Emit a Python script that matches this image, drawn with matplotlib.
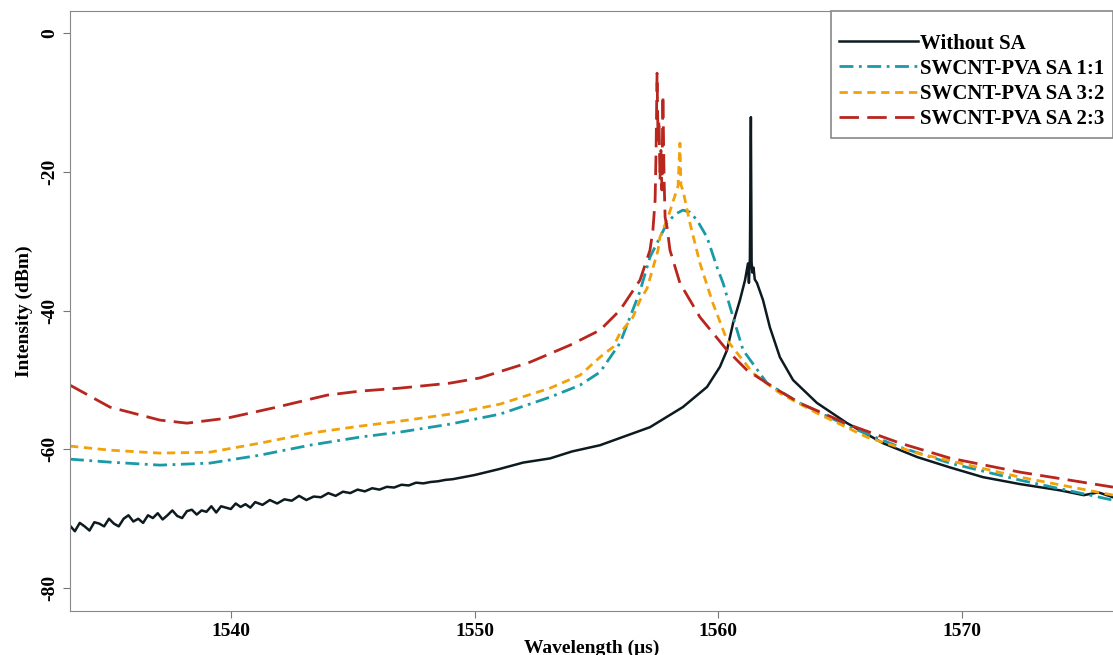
import matplotlib
matplotlib.use("Agg")
import matplotlib.pyplot as plt

plt.rcParams['font.family'] = ['Liberation Serif', 'DejaVu Serif']
plt.rcParams['font.weight'] = 'bold'
plt.rcParams['axes.labelweight'] = 'bold'
plt.rcParams['axes.unicode_minus'] = False

# Without SA (spectrum, noise included by hand)
wl_black = [1533.4, 1533.6, 1533.8, 1534.0, 1534.2, 1534.4, 1534.6, 1534.8, 1535.0, 1535.2,
            1535.4, 1535.6, 1535.8, 1536.0, 1536.2, 1536.4, 1536.6, 1536.8, 1537.0, 1537.2,
            1537.4, 1537.6, 1537.8, 1538.0, 1538.2, 1538.4, 1538.6, 1538.8, 1539.0, 1539.2,
            1539.4, 1539.6, 1539.8, 1540.0, 1540.2, 1540.4, 1540.6, 1540.8, 1541.0,
            1541.3, 1541.6, 1541.9, 1542.2, 1542.5, 1542.8, 1543.1, 1543.4, 1543.7, 1544.0,
            1544.3, 1544.6, 1544.9, 1545.2, 1545.5, 1545.8, 1546.1, 1546.4, 1546.7, 1547.0,
            1547.3, 1547.6, 1547.9, 1548.2, 1548.5, 1548.8, 1549.1,
            1550.0, 1551.0, 1552.0, 1553.1, 1554.0, 1555.15, 1557.2, 1558.55,
            1559.54, 1560.07, 1560.36, 1560.61, 1560.89, 1561.10, 1561.22, 1561.26, 1561.30,
            1561.34, 1561.37, 1561.40, 1561.45, 1561.50, 1561.59, 1561.84, 1562.12, 1562.53,
            1563.07, 1564.05, 1565.28, 1566.76, 1568.16, 1569.51, 1570.86, 1572.38, 1574.02,
            1575.0, 1575.6, 1576.2]
db_black = [-71.0, -71.8, -70.6, -71.1, -71.7, -70.5, -70.7, -71.1, -70.0, -70.7,
            -71.1, -70.0, -69.5, -70.4, -70.0, -70.6, -69.5, -69.9, -69.2, -70.1,
            -69.5, -68.8, -69.6, -69.9, -68.9, -68.7, -69.4, -68.8, -69.0, -68.2,
            -69.1, -68.2, -68.4, -68.6, -67.8, -68.3, -67.9, -68.4, -67.6,
            -68.0, -67.3, -67.8, -67.2, -67.4, -66.7, -67.3, -66.8, -66.9, -66.3,
            -66.7, -66.1, -66.3, -65.8, -66.05, -65.6, -65.8, -65.4, -65.5, -65.1,
            -65.2, -64.8, -64.9, -64.7, -64.6, -64.4, -64.3,
            -63.7, -62.85, -61.9, -61.3, -60.3, -59.4, -56.8, -53.9,
            -51.0, -48.1, -45.7, -41.8, -38.5, -35.6, -33.2, -36.0, -32.5,
            -12.1, -33.0, -34.5, -33.8, -35.5, -36.0, -38.5, -42.4, -46.7,
            -50.0, -53.3, -56.2, -59.1, -61.1, -62.6, -64.0, -65.0, -65.9,
            -66.6, -66.2, -66.9]

# SWCNT-PVA SA 1:1
wl_11 = [1533.40, 1535.04, 1537.09, 1539.14, 1541.20, 1543.25, 1545.30, 1546.94, 1548.99,
         1551.04, 1553.10, 1554.33, 1555.15, 1555.97, 1556.79, 1557.20, 1557.61, 1557.90,
         1558.23, 1558.55, 1558.84, 1559.13, 1559.54, 1559.95, 1560.20, 1560.61, 1561.02,
         1562.00, 1563.35, 1565.41, 1567.46, 1569.51, 1572.38, 1576.20]
db_11 = [-61.41, -61.84, -62.27, -61.98, -60.83, -59.39, -58.23, -57.51, -56.36,
         -54.92, -52.47, -50.74, -48.86, -44.68, -37.2, -32.29, -29.41, -27.39,
         -26.1, -25.51, -25.8, -26.95, -29.41, -33.73, -36.04, -40.94, -45.69,
         -50.45, -53.33, -56.79, -59.68, -61.98, -64.43, -67.32]

# SWCNT-PVA SA 3:2
wl_32 = [1533.40, 1535.04, 1537.09, 1539.14, 1541.20, 1543.25, 1545.30, 1546.94, 1548.99,
         1551.04, 1553.10, 1554.33, 1555.15, 1555.68, 1555.97, 1556.50, 1556.79, 1557.08,
         1557.53, 1557.61, 1557.94, 1558.23, 1558.35, 1558.43, 1558.47, 1558.55, 1558.64,
         1558.84, 1559.25, 1559.78, 1560.36, 1561.43, 1562.53, 1564.05, 1566.10, 1568.16,
         1572.38, 1576.20]
db_32 = [-59.53, -60.11, -60.54, -60.40, -59.10, -57.66, -56.65, -55.93, -54.92,
         -53.48, -51.17, -49.30, -46.70, -45.26, -43.24, -40.94, -38.5, -36.8,
         -31.28, -29.41, -26.52, -23.35, -22.05, -15.86, -21.9, -22.6, -24.07,
         -27.39, -33.15, -38.92, -44.25, -49.01, -51.89, -54.77, -58.23, -60.54,
         -64.00, -66.59]

# SWCNT-PVA SA 2:3
wl_23 = [1533.40, 1535.04, 1537.09, 1538.20, 1539.84, 1541.89, 1543.95, 1545.30, 1546.94,
         1548.99, 1550.22, 1552.28, 1553.92, 1555.15, 1555.97, 1556.79, 1557.20, 1557.32,
         1557.41, 1557.45, 1557.49, 1557.53, 1557.57, 1557.61, 1557.65, 1557.69, 1557.73,
         1557.78, 1557.82, 1557.90, 1558.02, 1558.43, 1559.25, 1560.36, 1561.18, 1562.25,
         1563.35, 1565.41, 1567.46, 1569.51, 1572.38, 1576.20]
db_23 = [-50.74, -53.91, -55.78, -56.22, -55.50, -53.91, -52.18, -51.60, -51.17,
         -50.45, -49.7, -47.42, -44.97, -42.81, -39.93, -35.60, -31.28, -28.40,
         -24.07, -16.9, -5.77, -15.4, -12.5, -21.2, -16.9, -22.6, -8.94,
         -21.2, -26.52, -27.96, -31.28, -36.04, -40.94, -45.69, -48.58, -51.03,
         -53.33, -56.50, -59.10, -61.26, -63.28, -65.44]

labels = ['Without SA', 'SWCNT-PVA SA 1:1', 'SWCNT-PVA SA 3:2', 'SWCNT-PVA SA 2:3']
xticks = [1540, 1550, 1560, 1570]
yticks = [0, -20, -40, -60, -80]

fig = plt.figure(figsize=(11.13, 6.55), dpi=100)
ax = fig.add_axes([70 / 1113, 44 / 655, 1 - 70 / 1113, 600 / 655])

ax.plot(wl_black, db_black, color='#0d1b21', lw=1.8, label=labels[0])
ax.plot(wl_11, db_11, color='#1a9aa6', lw=2, dashes=(5, 2, 1, 2), label=labels[1])
ax.plot(wl_32, db_32, color='#f2a10a', lw=2, dashes=(3, 2), label=labels[2])
ax.plot(wl_23, db_23, color='#b8261e', lw=2, dashes=(7, 3), label=labels[3])

ax.set_xlim(1533.4, 1576.2)
ax.set_ylim(-83.3, 3.2)
ax.set_xticks(xticks)
ax.set_yticks(yticks)
ax.tick_params(labelsize=14, color='#777777', length=5)
for lbl in ax.get_yticklabels():
    lbl.set_rotation(90)
    lbl.set_va('center')
for side in ['top', 'left', 'bottom']:
    ax.spines[side].set_color('#888888')
ax.spines['right'].set_visible(False)

ax.set_xlabel('Wavelength (μs)', fontsize=14, fontweight='bold', labelpad=0)
ax.set_ylabel('Intensity (dBm)', fontsize=14, fontweight='bold', labelpad=6)

leg = ax.legend(loc='upper right', bbox_to_anchor=(1.0, 1.0), borderaxespad=0,
                fontsize=15, handlelength=3.8, handletextpad=0.1, labelspacing=0.25,
                fancybox=False, edgecolor='#888888', framealpha=1,
                title=' ', title_fontsize=8)
leg.get_frame().set_linewidth(1.2)

fig.savefig('out.png', dpi=100)
